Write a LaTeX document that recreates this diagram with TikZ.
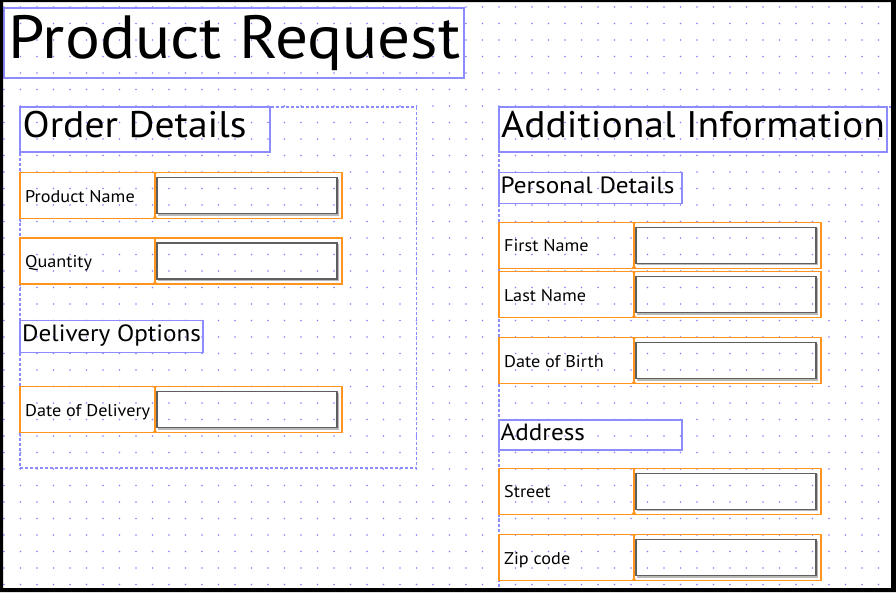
\documentclass[tikz,border=0pt]{standalone}
\usepackage{fontspec}
\setmainfont{PT Sans}[FakeStretch=1.07]
\usetikzlibrary{positioning, calc}

\definecolor{gridblue}{RGB}{130,130,255}
\definecolor{headblue}{RGB}{140,140,255}
\definecolor{fieldorange}{RGB}{255,148,30}
\definecolor{inputgray}{RGB}{95,95,95}
\definecolor{shadowgray}{RGB}{185,185,185}

\begin{document}
\begin{tikzpicture}[x=1pt, y=-1pt,
    headbox/.style={draw=headblue, line width=1.2pt, inner sep=0pt, outer sep=0pt, anchor=north west},
    groupbox/.style={draw=headblue, line width=1.1pt, dash pattern=on 3pt off 2pt, inner sep=0pt, outer sep=0pt, anchor=north west},
    headtext/.style={anchor=base west, inner sep=0pt},
    rowbox/.style={draw=fieldorange, line width=1.5pt, inner sep=0pt, outer sep=0pt, anchor=north west, minimum width=322pt, minimum height=46pt},
    inputbox/.style={draw=inputgray, line width=1.4pt, inner sep=0pt, outer sep=0pt, anchor=north west, minimum width=180pt, minimum height=36pt},
    rowlabel/.style={anchor=base west, inner sep=0pt, font=\fontsize{17}{20}\selectfont}]
    \useasboundingbox (0,0) rectangle (896,592);
    \fill[white] (0,0) rectangle (896,592);
    % dot grid
    \foreach \i in {0,...,53}
        \foreach \j in {0,...,35}
            \fill[gridblue] (4+16.5*\i, 7+16.5*\j) circle (0.95pt);
    % group boxes
    \node[groupbox, minimum width=396.7pt, minimum height=361pt] (ordergroup) at (20,107) {};
    \node[groupbox, minimum width=394pt, minimum height=490pt] (infogroup) at (499,107) {};
    % headings
    \node[headbox, minimum width=460pt, minimum height=70pt] (titlebox) at (4,8) {};
    \node[headtext, font=\fontsize{61}{70}\selectfont] (title) at (8.5,58.3) {Product Request};
    \node[headbox, minimum width=250pt, minimum height=45pt] (orderbox) at (20,107) {};
    \node[headtext, font=\fontsize{37}{42}\selectfont] (order) at (22.5,137.3) {Order Details};
    \node[headbox, minimum width=388pt, minimum height=45pt] (infobox) at (499,107) {};
    \node[headtext, font=\fontsize{37}{42}\selectfont] (info) at (501,137.3) {Additional Information};
    \node[headbox, minimum width=183pt, minimum height=31pt] (personalbox) at (499,172.3) {};
    \node[headtext, font=\fontsize{23.5}{28}\selectfont] (personal) at (500.5,193.3) {Personal Details};
    \node[headbox, minimum width=183pt, minimum height=31.6pt] (deliverybox) at (20,320.7) {};
    \node[headtext, font=\fontsize{23.5}{28}\selectfont] (delivery) at (22,341.7) {Delivery Options};
    \node[headbox, minimum width=183pt, minimum height=30pt] (addressbox) at (499,420) {};
    \node[headtext, font=\fontsize{23.5}{28}\selectfont] (address) at (500.5,440) {Address};
    % form rows
    \foreach \x/\y/\name/\txt in {20/172.7/pname/Product Name, 20/238/qty/Quantity,
        20/386.7/ddate/Date of Delivery, 499/222.3/fname/First Name,
        499/271.7/lname/Last Name, 499/337.7/dob/Date of Birth,
        499/468.3/street/Street, 499/534.7/zip/Zip code} {
        \node[rowbox] (\name) at (\x,\y) {};
        \node[inputbox] (\name-in) at ($(\name.north west)+(137,5)$) {};
        \draw[shadowgray, line width=1.2pt] ($(\name-in.north east)+(1.3,1)$) -- ($(\name-in.south east)+(1.3,1.3)$) -- ($(\name-in.south west)+(1,1.3)$);
        \draw[fieldorange, line width=1.4pt] ($(\name.north west)+(135,0)$) -- ($(\name.south west)+(135,0)$);
        \fill[fieldorange] ($(\name.south west)+(132.5,0)$) -- ++(5,0) -- ++(-2.5,-3.5) -- cycle;
        \fill[fieldorange] ($(\name.north west)+(133,0)$) -- ++(4,0) -- ++(-2,2.5) -- cycle;
        \node[rowlabel] (\name-lbl) at ($(\name.north west)+(5,29.5)$) {\txt};
    }
    % frame
    \fill[black, even odd rule] (0,0) rectangle (896,592) (3,2) rectangle (891,588);
\end{tikzpicture}
\end{document}
